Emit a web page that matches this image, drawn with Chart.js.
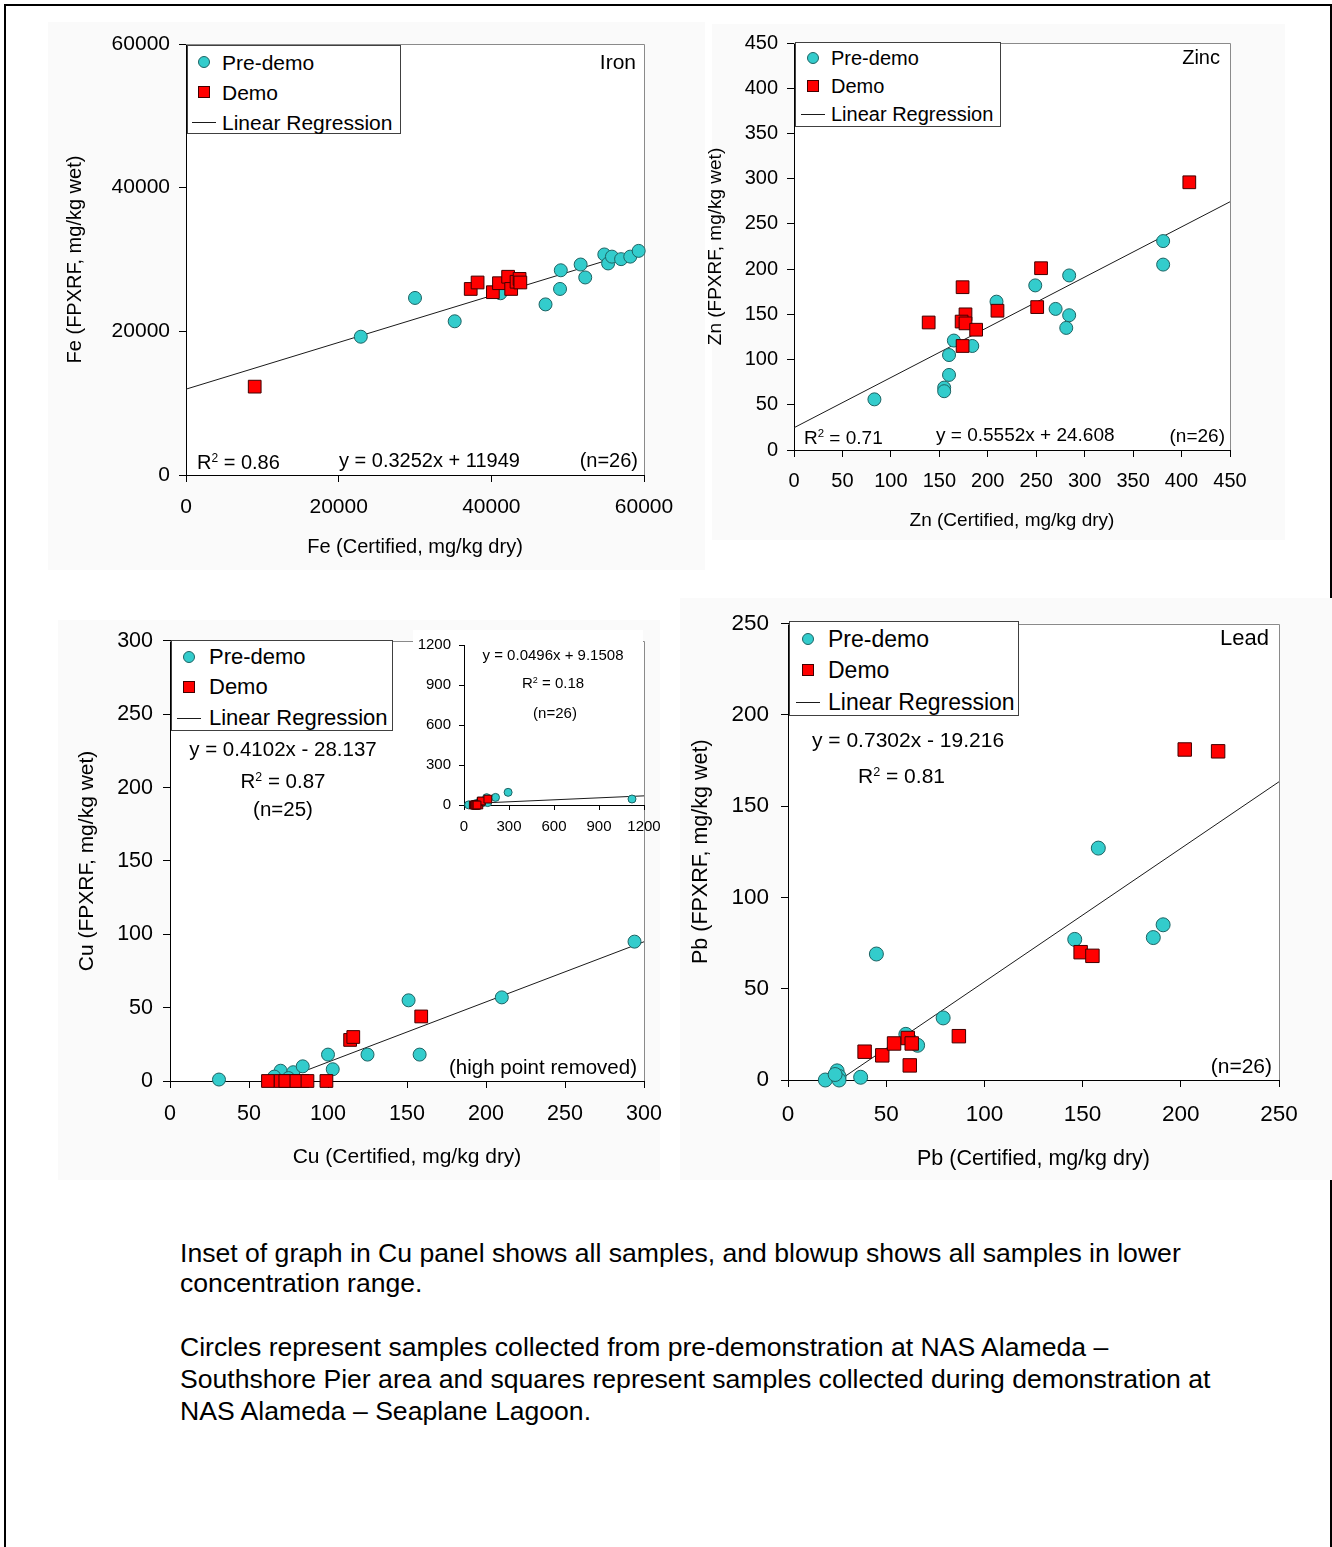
<!DOCTYPE html>
<html>
<head>
<meta charset="utf-8">
<script src="https://cdn.jsdelivr.net/npm/chart.js@4.4.1/dist/chart.umd.min.js"></script>
<style>
  body { margin: 0; background: #fff; font-family: "Liberation Sans", Arial, sans-serif; color: #000; }
  #sheet { position: relative; width: 1332px; height: 1547px; overflow: hidden; }
  .frame { position: absolute; left: 4px; top: 4px; width: 1328px; height: 1700px; box-sizing: border-box; border: 2px solid #000; border-bottom: none; }
  .panel { position: absolute; background: #fafafa; }
  .inset-bg { position: absolute; background: #fff; }
  canvas { position: absolute; }
  .note { position: absolute; white-space: nowrap; line-height: 1; }
  .note sup { font-size: 0.6em; vertical-align: 0.55em; line-height: 0; }
  .legend { position: absolute; box-sizing: border-box; border: 1px solid #404040; background: #fff; }
  .legend .row { position: absolute; left: 0; white-space: nowrap; line-height: 1; }
  .legend .mk { position: absolute; box-sizing: border-box; }
  .caption { position: absolute; left: 180px; font-size: 26.6px; white-space: nowrap; }
</style>
</head>
<body>
<div id="sheet">
  <div class="frame"></div>
  <div class="panel" style="left:48px;top:22px;width:657px;height:548px"></div>
  <div class="panel" style="left:712px;top:24px;width:573px;height:516px"></div>
  <div class="panel" style="left:58px;top:620px;width:602px;height:560px"></div>
  <div class="panel" style="left:680px;top:598px;width:652px;height:582px"></div>
  <canvas id="fe"></canvas>
  <canvas id="zn"></canvas>
  <canvas id="cu"></canvas>
  <div class="inset-bg" style="left:413px;top:630px;width:230px;height:215px"></div>
  <canvas id="cuAll"></canvas>
  <canvas id="pb"></canvas>
  <div class="caption" style="top:1238px;line-height:30px">Inset of graph in Cu panel shows all samples, and blowup shows all samples in lower<br>concentration range.</div>
  <div class="caption" style="top:1331px;line-height:32px">Circles represent samples collected from pre-demonstration at NAS Alameda –<br>Southshore Pier area and squares represent samples collected during demonstration at<br>NAS Alameda – Seaplane Lagoon.</div>
</div>
<script>
// Iron (mg/kg): certified vs. field XRF
const FE_TICKS = [0, 20000, 40000, 60000];
const FE_PRE_X = [22900, 30000, 35200, 41200, 47100, 49000, 49100, 51700, 52300, 54800, 55300, 55800, 57000, 58200, 59300, 42500];
const FE_PRE_Y = [19250, 24650, 21400, 25300, 23750, 25900, 28500, 29300, 27500, 30700, 29450, 30400, 30050, 30400, 31200, 26500];
const FE_DEMO_X = [9000, 37300, 38200, 40200, 41000, 42200, 42600, 43300, 43700, 43800];
const FE_DEMO_Y = [12300, 25900, 26800, 25450, 26700, 27600, 25900, 26900, 27300, 26800];
const FE_FIT = [0.3252, 11949];

// Zinc
const ZN_TICKS = [0, 50, 100, 150, 200, 250, 300, 350, 400, 450];
const ZN_PRE_X = [83, 155, 155, 160, 160, 165, 184, 209, 249, 270, 284, 281, 284, 381, 381];
const ZN_PRE_Y = [56, 69, 65, 83, 105, 121, 115, 164, 182, 156, 149, 135, 193, 231, 205];
const ZN_DEMO_X = [139, 174, 177, 173, 177, 188, 174, 210, 251, 255, 408];
const ZN_DEMO_Y = [141, 180, 150, 142, 140, 133, 115, 154, 158, 201, 296];
const ZN_FIT = [0.5552, 24.608];

// Copper (main panel leaves out the one high sample)
const CU_TICKS = [0, 50, 100, 150, 200, 250, 300];
const CU_PRE_X = [31, 70, 78, 84, 100, 103, 125, 151, 158, 210, 294, 66, 75];
const CU_PRE_Y = [1, 7, 6, 10, 18, 8, 18, 55, 18, 57, 95, 3, 2];
const CU_DEMO_X = [62, 70, 77, 82, 84, 99, 114, 116, 159, 73, 80, 87];
const CU_DEMO_Y = [0, 0, 0, 0, 0, 0, 28, 30, 44, 0, 0, 0];
const CU_FIT = [0.4102, -28.137];
const CU_HIGH_X = [1120];
const CU_HIGH_Y = [45];
const CU_ALL_TICKS = [0, 300, 600, 900, 1200];
const CU_ALL_FIT = [0.0496, 9.1508];

// Lead
const PB_TICKS = [0, 50, 100, 150, 200, 250];
const PB_PRE_X = [19, 25, 26, 26, 37, 45, 60, 66, 79, 146, 158, 186, 191, 62, 24];
const PB_PRE_Y = [0, 5, 2, 0, 1.5, 69, 25, 19, 34, 77, 127, 78, 85, 22, 3];
const PB_DEMO_X = [39, 48, 54, 61, 63, 62, 87, 149, 155, 202, 219];
const PB_DEMO_Y = [15.5, 13.5, 20, 23, 20, 8, 24, 70, 68, 181, 180];
const PB_FIT = [0.7302, -19.216];

const TEAL = '#33cccc';
const TEAL_EDGE = '#1e6464';
const RED = '#ff0000';
const RED_EDGE = '#400000';
const FIT_COLOR = '#1a1a1a';

Chart.defaults.font.family = '"Liberation Sans", Arial, sans-serif';
Chart.defaults.color = '#000';

// white plot area plus the thin grey top/right edges of the plot box
Chart.register({
    id: 'plotFrame',
    beforeDraw(chart) {
        const { ctx, chartArea: a } = chart;
        ctx.save();
        ctx.fillStyle = '#fff';
        ctx.fillRect(a.left, a.top, a.width, a.height);
        ctx.restore();
    },
    beforeDatasetsDraw(chart, args, opts) {
        const { ctx, chartArea: a } = chart;
        const t = Math.round(a.top) + 0.5;
        const r = Math.round(a.right) + 0.5;
        ctx.save();
        ctx.strokeStyle = '#8a8a8a';
        ctx.lineWidth = 1;
        ctx.beginPath();
        if (opts.top !== false) {
            ctx.moveTo(a.left, t);
            ctx.lineTo(r, t);
        } else {
            ctx.moveTo(r, t);
        }
        ctx.lineTo(r, a.bottom);
        ctx.stroke();
        ctx.restore();
    },
});

const toPoints = (xs, ys) => xs.map((x, i) => ({ x, y: ys[i] }));
const fitPoints = ([m, b], x0, x1) => [{ x: x0, y: m * x0 + b }, { x: x1, y: m * x1 + b }];

function preDemo(xs, ys, r) {
    return { label: 'Pre-demo', data: toPoints(xs, ys), pointStyle: 'circle', pointRadius: r, backgroundColor: TEAL, borderColor: TEAL_EDGE, borderWidth: 1, clip: false };
}

function demo(xs, ys, r) {
    return { label: 'Demo', data: toPoints(xs, ys), pointStyle: 'rect', pointRadius: r, backgroundColor: RED, borderColor: RED_EDGE, borderWidth: 1, clip: false };
}

function regression(pts) {
    return { label: 'Linear Regression', data: pts, showLine: true, pointRadius: 0, borderColor: FIT_COLOR, borderWidth: 1, fill: false };
}

function axis(o) {
    return {
        type: 'linear',
        min: o.ticks[0],
        max: o.ticks[o.ticks.length - 1],
        afterBuildTicks: (s) => { s.ticks = o.ticks.map((value) => ({ value })); },
        afterFit: (s) => {
            if (o.width !== undefined) s.width = o.width;
            if (o.height !== undefined) s.height = o.height;
        },
        ticks: { font: { size: o.font }, color: '#000', padding: o.pad, autoSkip: false, maxRotation: 0, callback: (v) => String(v) },
        grid: { display: true, drawOnChartArea: false, drawTicks: true, tickLength: o.tick, tickColor: '#000', lineWidth: 1 },
        border: { display: true, color: '#000', width: 1 },
        title: o.title
            ? { display: true, text: o.title, color: '#000', font: { size: o.titleFont }, padding: o.titlePad }
            : { display: false },
    };
}

function panel(p) {
    const cv = document.getElementById(p.id);
    cv.width = p.box.w;
    cv.height = p.box.h;
    cv.style.left = `${p.box.x}px`;
    cv.style.top = `${p.box.y}px`;

    const xs = p.x;
    const ys = p.y;
    const xAxis = axis({
        ...xs,
        height: p.box.y + p.box.h - p.plot.B,
        titlePad: xs.title ? { top: 0, bottom: p.box.y + p.box.h - xs.titleY - xs.titleFont * 0.6 } : 0,
    });
    const yAxis = axis({
        ...ys,
        width: p.plot.L - p.box.x,
        titlePad: ys.title ? { top: ys.titleX - p.box.x - ys.titleFont * 0.6, bottom: 0 } : 0,
    });

    return new Chart(cv, {
        type: 'scatter',
        data: { datasets: p.datasets },
        options: {
            responsive: false,
            animation: false,
            events: [],
            layout: { padding: { left: 0, bottom: 0, top: p.plot.T - p.box.y, right: p.box.x + p.box.w - p.plot.R } },
            scales: { x: xAxis, y: yAxis },
            plugins: { legend: { display: false }, tooltip: { enabled: false }, plotFrame: { top: p.frameTop !== false } },
        },
    });
}

const sheet = document.getElementById('sheet');

function note(html, x, y, size, align) {
    const el = document.createElement('div');
    el.className = 'note';
    el.innerHTML = html;
    el.style.left = `${x}px`;
    el.style.top = `${y}px`;
    el.style.fontSize = `${size}px`;
    const shift = align === 'c' ? '-50%' : align === 'r' ? '-100%' : '0';
    el.style.transform = `translate(${shift}, -50%)`;
    sheet.appendChild(el);
}

// legend box drawn from the chart's own datasets (line dataset last)
function legend(chart, l) {
    const box = document.createElement('div');
    box.className = 'legend';
    Object.assign(box.style, { left: `${l.x}px`, top: `${l.y}px`, width: `${l.w}px`, height: `${l.h}px` });
    const order = ['Pre-demo', 'Demo', 'Linear Regression'];
    const sets = order.map((name) => chart.data.datasets.find((d) => d.label === name));
    sets.forEach((ds, i) => {
        const cy = l.rows[i];
        const mk = document.createElement('div');
        mk.className = 'mk';
        if (ds.showLine) {
            Object.assign(mk.style, { left: `${l.mx - 12}px`, top: `${cy}px`, width: '24px', height: '1px', background: ds.borderColor });
        } else if (ds.pointStyle === 'circle') {
            Object.assign(mk.style, { left: `${l.mx - 6}px`, top: `${cy - 6}px`, width: '12px', height: '12px', borderRadius: '50%', background: ds.backgroundColor, border: `1px solid ${ds.borderColor}` });
        } else {
            Object.assign(mk.style, { left: `${l.mx - 6}px`, top: `${cy - 6}px`, width: '12px', height: '12px', background: ds.backgroundColor, border: `1px solid ${ds.borderColor}` });
        }
        box.appendChild(mk);
        const row = document.createElement('div');
        row.className = 'row';
        row.textContent = ds.label;
        Object.assign(row.style, { left: `${l.tx}px`, top: `${cy}px`, fontSize: `${l.font}px`, transform: 'translateY(-50%)' });
        box.appendChild(row);
    });
    sheet.appendChild(box);
}

const feChart = panel({
    id: 'fe',
    box: { x: 48, y: 22, w: 657, h: 550 },
    plot: { L: 186, T: 44, R: 644, B: 475 },
    x: { ticks: FE_TICKS, font: 21, pad: 13, tick: 7, title: 'Fe (Certified, mg/kg dry)', titleFont: 20, titleY: 547 },
    y: { ticks: FE_TICKS, font: 21, pad: 9, tick: 7, title: 'Fe (FPXRF, mg/kg wet)', titleFont: 20, titleX: 75 },
    datasets: [
        demo(FE_DEMO_X, FE_DEMO_Y, 9),
        preDemo(FE_PRE_X, FE_PRE_Y, 6.5),
        regression(fitPoints(FE_FIT, 0, 60000)),
    ],
});
legend(feChart, { x: 187, y: 45, w: 214, h: 89, rows: [16, 46, 76], mx: 16, tx: 34, font: 21 });
note('R<sup>2</sup> = 0.86', 197, 462, 20, 'l');
note('y = 0.3252x + 11949', 339, 460, 20, 'l');
note('(n=26)', 638, 460, 20, 'r');
note('Iron', 636, 61, 21, 'r');

const znChart = panel({
    id: 'zn',
    box: { x: 690, y: 22, w: 595, h: 518 },
    plot: { L: 794, T: 41, R: 1230, B: 450 },
    x: { ticks: ZN_TICKS, font: 20, pad: 12, tick: 7, title: 'Zn (Certified, mg/kg dry)', titleFont: 19, titleY: 521 },
    y: { ticks: ZN_TICKS, font: 20, pad: 9, tick: 7, title: 'Zn (FPXRF, mg/kg wet)', titleFont: 19, titleX: 716 },
    datasets: [
        demo(ZN_DEMO_X, ZN_DEMO_Y, 9),
        preDemo(ZN_PRE_X, ZN_PRE_Y, 6.5),
        regression(fitPoints(ZN_FIT, 0, 450)),
    ],
});
legend(znChart, { x: 795, y: 42, w: 206, h: 85, rows: [15, 43, 71], mx: 17, tx: 35, font: 20 });
note('R<sup>2</sup> = 0.71', 804, 437, 19, 'l');
note('y = 0.5552x + 24.608', 936, 434, 19, 'l');
note('(n=26)', 1225, 435, 19, 'r');
note('Zinc', 1220, 57, 20, 'r');

const cuChart = panel({
    id: 'cu',
    box: { x: 55, y: 618, w: 620, h: 562 },
    plot: { L: 170, T: 640, R: 644, B: 1081 },
    x: { ticks: CU_TICKS, font: 21.5, pad: 13, tick: 7, title: 'Cu (Certified, mg/kg dry)', titleFont: 21, titleY: 1157 },
    y: { ticks: CU_TICKS, font: 21.5, pad: 10, tick: 7, title: 'Cu (FPXRF, mg/kg wet)', titleFont: 21, titleX: 87 },
    datasets: [
        demo(CU_DEMO_X, CU_DEMO_Y, 9),
        preDemo(CU_PRE_X, CU_PRE_Y, 6.5),
        regression(fitPoints(CU_FIT, -CU_FIT[1] / CU_FIT[0], 300)),
    ],
});
legend(cuChart, { x: 171, y: 640, w: 222, h: 91, rows: [16, 46, 77], mx: 17, tx: 37, font: 22 });
note('y = 0.4102x - 28.137', 283, 749, 20.5, 'c');
note('R<sup>2</sup> = 0.87', 283, 781, 20.5, 'c');
note('(n=25)', 283, 809, 20.5, 'c');
note('(high point removed)', 637, 1067, 20.5, 'r');

// inset: every copper sample, including the high one
panel({
    id: 'cuAll',
    box: { x: 413, y: 628, w: 272, h: 217 },
    plot: { L: 464, T: 637, R: 644, B: 805 },
    frameTop: false,
    x: { ticks: CU_ALL_TICKS, font: 15, pad: 8, tick: 5 },
    y: { ticks: CU_ALL_TICKS, font: 15, pad: 8, tick: 5 },
    datasets: [
        demo(CU_DEMO_X, CU_DEMO_Y, 5.5),
        preDemo(CU_PRE_X.concat(CU_HIGH_X), CU_PRE_Y.concat(CU_HIGH_Y), 4),
        regression(fitPoints(CU_ALL_FIT, 0, 1200)),
    ],
});
note('y = 0.0496x + 9.1508', 553, 654, 15, 'c');
note('R<sup>2</sup> = 0.18', 553, 682, 15, 'c');
note('(n=26)', 555, 712, 15, 'c');

const pbChart = panel({
    id: 'pb',
    box: { x: 680, y: 598, w: 652, h: 582 },
    plot: { L: 788, T: 620, R: 1279, B: 1080 },
    x: { ticks: PB_TICKS, font: 22.5, pad: 14, tick: 7, title: 'Pb (Certified, mg/kg dry)', titleFont: 21.5, titleY: 1159 },
    y: { ticks: PB_TICKS, font: 22.5, pad: 12, tick: 7, title: 'Pb (FPXRF, mg/kg wet)', titleFont: 21.5, titleX: 701 },
    datasets: [
        demo(PB_DEMO_X, PB_DEMO_Y, 9.5),
        preDemo(PB_PRE_X, PB_PRE_Y, 7),
        regression(fitPoints(PB_FIT, -PB_FIT[1] / PB_FIT[0], 250)),
    ],
});
legend(pbChart, { x: 789, y: 621, w: 230, h: 95, rows: [17, 48, 80], mx: 18, tx: 38, font: 23 });
note('y = 0.7302x - 19.216', 812, 739, 21, 'l');
note('R<sup>2</sup> = 0.81', 858, 775, 21, 'l');
note('(n=26)', 1272, 1065, 21, 'r');
note('Lead', 1269, 638, 22, 'r');
</script>
</body>
</html>
